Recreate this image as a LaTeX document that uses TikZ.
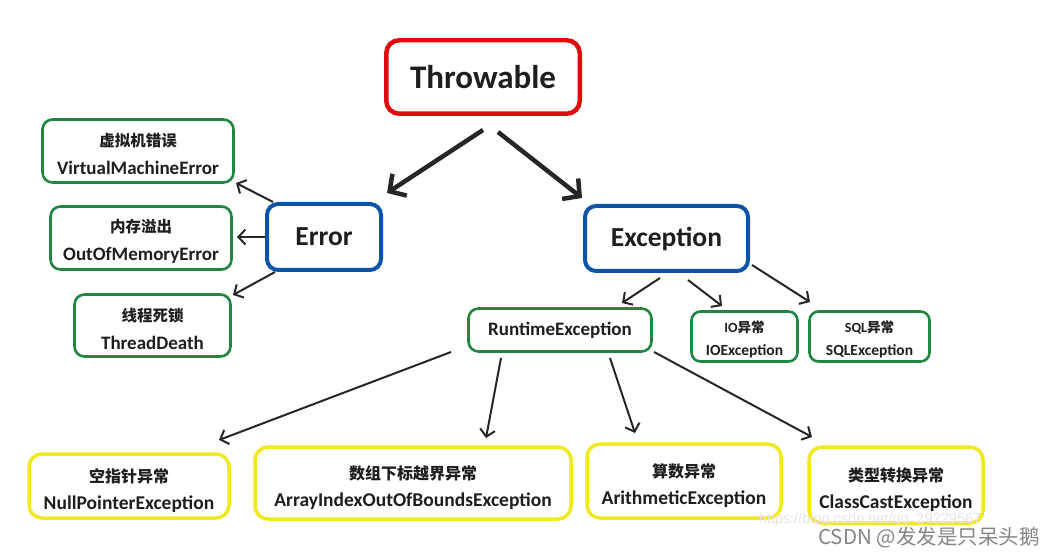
\documentclass[tikz,border=0pt]{standalone}
\usepackage{fontspec}
\setmainfont{Carlito}
\newfontfamily\cjkf{Noto Sans CJK SC}
\newfontfamily\wmf{Liberation Sans}
\usetikzlibrary{arrows.meta,calc}
\definecolor{cred}{RGB}{222,12,12}
\definecolor{cblue}{RGB}{12,84,168}
\definecolor{cgreen}{RGB}{32,134,66}
\definecolor{cyel}{RGB}{240,232,32}
\definecolor{ctxt}{RGB}{30,30,30}
\definecolor{carr}{RGB}{38,38,38}
\newcommand{\cn}[2]{{\cjkf\bfseries\fontsize{#1}{#1}\selectfont #2}}
\newcommand{\vs}[1]{\rule{0pt}{#1}}
\tikzset{
  basebox/.style={inner sep=0pt, align=center, text=ctxt},
  redbox/.style={basebox, draw=cred, line width=4.5pt, rounded corners=13pt,
    font=\fontsize{33}{33}\selectfont\bfseries},
  bluebox/.style={basebox, draw=cblue, line width=4pt, rounded corners=11pt,
    font=\fontsize{27.5}{27.5}\selectfont\bfseries},
  greenbox/.style={basebox, draw=cgreen, line width=2.6pt, rounded corners=10pt,
    font=\fontsize{19}{28}\selectfont\bfseries},
  smallgreen/.style={basebox, draw=cgreen, line width=2.6pt, rounded corners=9pt,
    font=\fontsize{15.5}{23}\selectfont\bfseries},
  yelbox/.style={basebox, draw=cyel, line width=3.5pt, rounded corners=13pt,
    font=\fontsize{19.5}{27}\selectfont\bfseries},
  bigarr/.style={draw=carr, line width=4.5pt, -{Straight Barb[length=12pt,width=26pt]}},
  smallarr/.style={draw=carr, line width=2pt, -{Straight Barb[length=7pt,width=15pt]}},
}
\begin{document}
\begin{tikzpicture}[x=1pt,y=-1pt]
\useasboundingbox (0,0) rectangle (1050,556);
\fill[white] (0,0) rectangle (1050,556);

\node[redbox, minimum width=193.5pt, minimum height=73.5pt] (thr) at (483,77) {Throwable};
\node[bluebox, minimum width=114pt, minimum height=66pt] (err) at (324,237) {Error};
\node[bluebox, minimum width=163pt, minimum height=65pt] (exc) at (666.5,238.5) {Exception};

\node[greenbox, minimum width=191pt, minimum height=63pt] (vme) at (138,151) {\vs{20pt}\cn{15.5}{虚拟机错误}\\VirtualMachineError};
\node[greenbox, minimum width=181pt, minimum height=63pt] (oom) at (141,238) {\vs{20pt}\cn{15.5}{内存溢出}\\OutOfMemoryError};
\node[greenbox, minimum width=156pt, minimum height=62pt] (td) at (152.5,325.5) {\vs{20pt}\cn{15.5}{线程死锁}\\ThreadDeath};

\node[greenbox, font=\fontsize{19}{19}\selectfont\bfseries, minimum width=183pt, minimum height=43pt] (rt) at (560,330) {RuntimeException};
\node[smallgreen, minimum width=106pt, minimum height=50pt] (io) at (744.5,336.5) {\vs{18pt}{\fontsize{14}{23}\selectfont IO}\cn{13.5}{异常}\\IOException};
\node[smallgreen, minimum width=120pt, minimum height=50pt] (sql) at (869.5,336.5) {\vs{18pt}{\fontsize{14}{23}\selectfont SQL}\cn{13.5}{异常}\\SQLException};

\node[yelbox, minimum width=200pt, minimum height=64pt] (npe) at (129,486) {\vs{23pt}\cn{16}{空指针异常}\\NullPointerException};
\node[yelbox, minimum width=316pt, minimum height=72pt] (aio) at (413,483) {\vs{23pt}\cn{16}{数组下标越界异常}\\ArrayIndexOutOfBoundsException};
\node[yelbox, minimum width=194pt, minimum height=74pt] (ari) at (684,481) {\vs{23pt}\cn{16}{算数异常}\\ArithmeticException};
\node[yelbox, minimum width=174pt, minimum height=76pt] (cc) at (896,485) {\vs{23pt}\cn{16}{类型转换异常}\\ClassCastException};

\draw[bigarr] ($(thr)+(0,53)$) -- ($(err)+(63,-44)$);
\draw[bigarr] ($(thr)+(15,55)$) -- ($(exc)+(-84.5,-40.5)$);

\draw[smallarr] ($(err)+(-51,-35)$) -- ($(vme)+(98,32)$);
\draw[smallarr] ($(err)+(-59,0)$) -- ($(oom)+(96,-1)$);
\draw[smallarr] ($(err)+(-49,35)$) -- ($(td)+(80.5,-30.5)$);

\draw[smallarr] ($(exc)+(-6.5,39.5)$) -- ($(rt)+(62,-27)$);
\draw[smallarr] ($(exc)+(21.5,41.5)$) -- ($(io)+(-22.5,-30.5)$);
\draw[smallarr] ($(exc)+(85.5,26.5)$) -- ($(sql)+(-59.5,-34.5)$);

\draw[smallarr] ($(rt)+(-109,22)$) -- ($(npe)+(90,-46)$);
\draw[smallarr] ($(rt)+(-59,28)$) -- ($(aio)+(73,-45)$);
\draw[smallarr] ($(rt)+(50,28)$) -- ($(ari)+(-49,-48)$);
\draw[smallarr] ($(rt)+(94,22)$) -- ($(cc)+(-84,-48)$);

\node[text=black!10, font=\wmf\fontsize{14.5}{14.5}\selectfont] (url) at (870,520) {https://blog.csdn.net/qq\_29229567};
\node[text=black!48, font=\cjkf\fontsize{20.5}{20.5}\selectfont] (csdn) at (929,538) {CSDN @发发是只呆头鹅};
\end{tikzpicture}
\end{document}
